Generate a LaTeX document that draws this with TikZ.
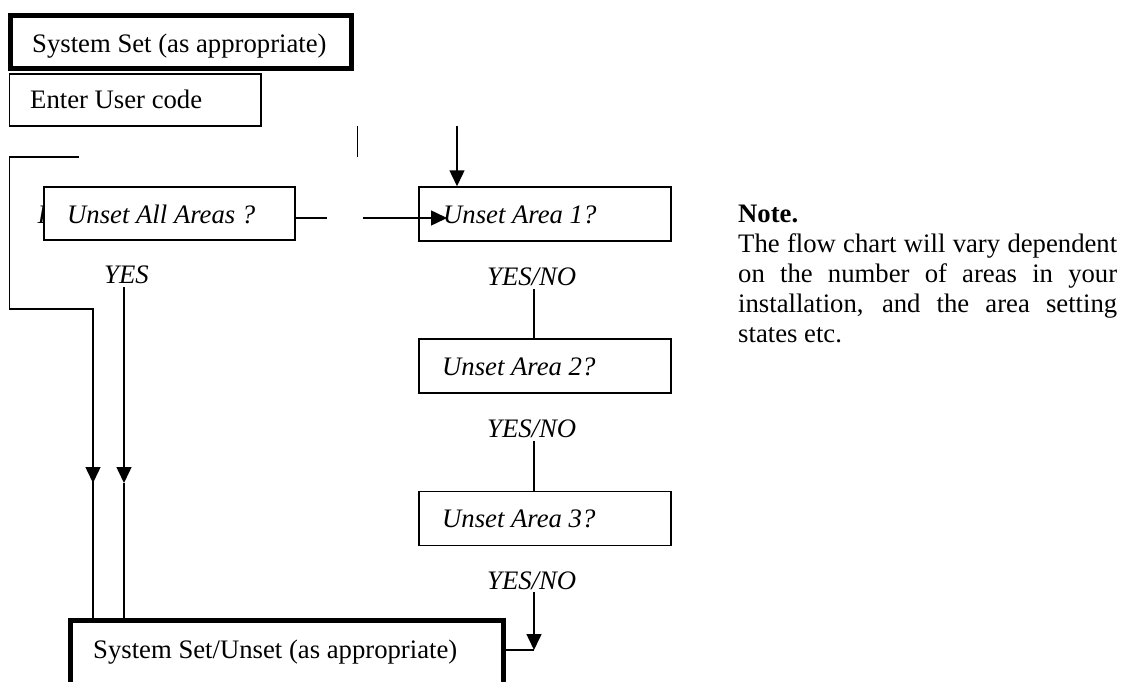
\documentclass[tikz,border=0pt]{standalone}
\usepackage{fontspec}
\setmainfont{Liberation Serif}
\usetikzlibrary{arrows.meta}
\begin{document}
\begin{tikzpicture}[x=1pt,y=-1pt,
  thinbox/.style={draw, line width=1.5pt, inner sep=0pt, fill=white},
  thickbox/.style={draw, line width=5pt, inner sep=0pt, fill=white},
  lbl/.style={anchor=base west, inner sep=0pt, font=\fontsize{26.7}{30}\selectfont},
  ilbl/.style={anchor=base west, inner sep=0pt, font=\fontsize{26.7}{30}\selectfont\itshape},
  conn/.style={line width=1.5pt},
  arr/.style={conn, -{Triangle[length=16pt,width=15pt]}},
]
\useasboundingbox (0,0) rectangle (1121,682);
\clip (0,0) rectangle (1121,682);

% hidden fragment behind the box
\node[ilbl] (frag) at (37.5,223) {I};

% boxes
\node[thickbox, minimum width=341.5pt, minimum height=53pt] (top) at (180.75,42) {};
\node[thinbox, minimum width=251.5pt, minimum height=52pt] (enter) at (135.25,100) {};
\node[thinbox, minimum width=251pt, minimum height=53pt] (all) at (169.5,213.5) {};
\node[thinbox, minimum width=252pt, minimum height=54pt] (a1) at (545,214) {};
\node[thinbox, minimum width=252pt, minimum height=54pt] (a2) at (545,366) {};
\node[thinbox, minimum width=252pt, minimum height=54pt] (a3) at (545,518.5) {};
\node[thickbox, minimum width=433.5pt, minimum height=90pt] (bot) at (286.75,665) {};

% texts
\node[lbl] (ttop) at (32,53) {System Set (as appropriate)};
\node[lbl] (tenter) at (30,109) {Enter User code};
\node[ilbl] (tall) at (67,223) {Unset All Areas ?};
\node[ilbl] (ta1) at (443,223) {Unset Area 1?};
\node[ilbl] (ta2) at (442,375) {Unset Area 2?};
\node[ilbl] (ta3) at (442,527) {Unset Area 3?};
\node[ilbl] (yes) at (104,283) {YES};
\node[ilbl] (yn1) at (487,285) {YES/NO};
\node[ilbl] (yn2) at (487,437) {YES/NO};
\node[ilbl] (yn3) at (487,589) {YES/NO};
\node[lbl] (tbot) at (93,658) {System Set/Unset (as appropriate)};

% note
\node[lbl, font=\fontsize{26.7}{30}\selectfont\bfseries] (note) at (738,222) {Note.};
\node[lbl] (n1) at (738,252) {\makebox[379pt][s]{The flow chart will vary dependent}};
\node[lbl] (n2) at (738,282) {\makebox[379pt][s]{on the number of areas in your}};
\node[lbl] (n3) at (738,312) {\makebox[379pt][s]{installation, and the area setting}};
\node[lbl] (n4) at (738,342) {states etc.};

% free ends
\coordinate (s1) at (357.5,126);
\coordinate (s2) at (357.5,157);
\coordinate (l1) at (79,157);
\coordinate (l2) at (9.5,157);
\coordinate (l3) at (9.5,309);
\coordinate (l4) at (93,309);
\coordinate (l5) at (93,483);
\coordinate (y1) at (124,287);
\coordinate (y2) at (124,483);
\coordinate (g1) at (327,218);
\coordinate (g2) at (363,218);
\coordinate (g3) at (447,218);
\coordinate (d1) at (457,126);
\coordinate (v1) at (534,289);
\coordinate (v2) at (534,441);
\coordinate (v3) at (534,592);
\coordinate (v4) at (534,650);

% connectors
\draw[conn] (s1) -- (s2);
\draw[conn] (l1) -- (l2) -- (l3) -- (l4) -- (l5);
\draw[arr] (l4) -- (l5);
\draw[conn] (l5) -- (l5 |- bot.north);
\draw[arr] (y1) -- (y2);
\draw[conn] (y2) -- (y2 |- bot.north);
\draw[conn] (all.east |- g1) -- (g1);
\draw[arr] (g2) -- (g3);
\draw[arr] (d1) -- (d1 |- a1.north);
\draw[conn] (v1) -- (v1 |- a2.north);
\draw[conn] (v2) -- (v2 |- a3.north);
\draw[arr] (v3) -- (v4);
\draw[conn] (v4) -- (v4 -| bot.east);
\end{tikzpicture}
\end{document}
